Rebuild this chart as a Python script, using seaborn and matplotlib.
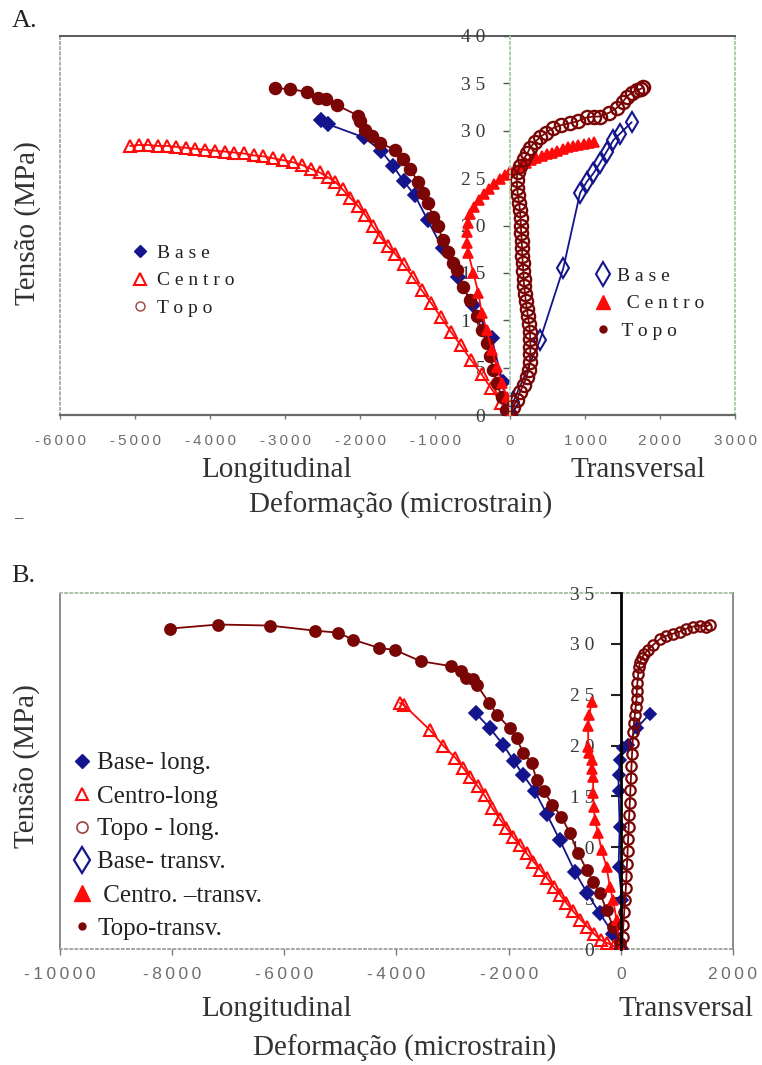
import matplotlib
matplotlib.use("Agg")
import matplotlib.pyplot as plt
from matplotlib.lines import Line2D
import seaborn as sns

sns.set_style("white")
SERIF = ['Liberation Serif', 'DejaVu Serif']
SANS = ['Liberation Sans', 'DejaVu Sans']
plt.rcParams['font.family'] = SERIF

# ---------------- data: panel A ----------------
a_base_long_x = [-2520, -2430, -1950, -1720, -1560, -1420, -1270, -1100, -900, -700, -500, -244, -100, 0]
a_base_long_y = [31.1, 30.7, 29.3, 27.9, 26.3, 24.7, 23.2, 20.6, 17.6, 14.6, 11.6, 8.1, 3.5, 0]

a_centro_long_x = [-5067, -4950, -4830, -4700, -4580, -4450, -4320, -4200, -4070, -3940,
                   -3800, -3680, -3550, -3420, -3290, -3160, -3030, -2900, -2780, -2660,
                   -2540, -2430, -2330, -2230, -2130, -2030, -1930, -1830, -1730, -1630,
                   -1530, -1420, -1300, -1180, -1050, -920, -790, -660, -520, -380,
                   -250, -120, 0]
a_centro_long_y = [28.4, 28.5, 28.5, 28.4, 28.4, 28.3, 28.2, 28.1, 28.0, 27.9,
                   27.8, 27.7, 27.6, 27.4, 27.3, 27.1, 26.9, 26.7, 26.4, 26.0,
                   25.6, 25.1, 24.6, 23.8, 22.9, 22.1, 21.1, 19.9, 18.8, 17.8,
                   17.0, 15.9, 14.6, 13.2, 11.8, 10.3, 8.8, 7.4, 5.8, 4.3,
                   2.8, 1.3, 0]

a_topo_long_x = [-3133, -2933, -2711, -2560, -2453, -2307, -2027, -2000, -1933, -1844,
                 -1733, -1533, -1422, -1333, -1227, -1160, -1093, -1027, -960, -900,
                 -830, -760, -711, -622, -533, -444, -378, -311, -267, -222,
                 -178, -111, -50, 0]
a_topo_long_y = [34.5, 34.4, 34.1, 33.5, 33.3, 32.7, 31.6, 31.0, 30.1, 29.4,
                 28.7, 28.0, 27.0, 26.0, 24.6, 23.4, 22.4, 20.9, 20.0, 18.5,
                 17.2, 16.0, 15.3, 13.5, 12.1, 10.4, 9.0, 7.6, 6.2, 4.7,
                 3.4, 1.9, 0.5, 0]

a_base_trans_x = [0, 44, 400, 711, 933, 1022, 1111, 1200, 1289, 1378, 1467, 1622]
a_base_trans_y = [0, 1.4, 7.9, 15.5, 23.4, 24.6, 25.5, 26.6, 27.8, 29.0, 29.7, 30.9]

a_centro_trans_x = [0, -44, -111, -178, -244, -311, -378, -422, -489, -556,
                    -578, -575, -560, -530, -480, -420, -350, -280, -210, -140,
                    -70, 0, 70, 140, 210, 280, 350, 420, 490, 560,
                    630, 700, 770, 840, 910, 980, 1050, 1120]
a_centro_trans_y = [0, 1.9, 3.4, 5.1, 6.9, 9.0, 10.8, 12.9, 15.0, 17.1,
                    18.2, 19.3, 20.3, 21.2, 22.0, 22.7, 23.3, 23.9, 24.4, 24.9,
                    25.3, 25.7, 26.0, 26.3, 26.6, 26.9, 27.1, 27.3, 27.5, 27.7,
                    27.9, 28.1, 28.3, 28.4, 28.5, 28.6, 28.7, 28.8]

a_topo_trans_x = [0, 40, 90, 133, 180, 220, 250, 265, 270, 272,
                  270, 265, 255, 240, 225, 210, 200, 190, 180, 178,
                  170, 165, 160, 156, 150, 145, 140, 133, 120, 105,
                  95, 89, 100, 133, 180, 230, 267, 330, 400, 480,
                  578, 680, 800, 900, 1022, 1120, 1200, 1320, 1422, 1500,
                  1556, 1620, 1689, 1740, 1778]
a_topo_trans_y = [0, 0.8, 1.6, 2.4, 3.2, 4.0, 4.8, 5.6, 6.4, 7.2,
                  8.0, 8.8, 9.6, 10.4, 11.2, 12.0, 12.8, 13.6, 14.4, 15.2,
                  16.0, 16.8, 17.6, 18.4, 19.2, 20.0, 20.8, 21.6, 22.4, 23.2,
                  24.0, 24.8, 25.6, 26.3, 27.0, 27.6, 28.2, 28.8, 29.3, 29.8,
                  30.3, 30.6, 30.8, 31.0, 31.4, 31.5, 31.5, 31.9, 32.4, 33.0,
                  33.6, 34.0, 34.3, 34.4, 34.6]

a_xticks = [-6000, -5000, -4000, -3000, -2000, -1000, 0, 1000, 2000, 3000]
a_xtick_labels = ['-6000', '-5000', '-4000', '-3000', '-2000', '-1000', '0', '1000', '2000', '3000']
a_yticks = [0, 5, 10, 15, 20, 25, 30, 35, 40]
a_ytick_labels = ['0', '5', '1 0', '1 5', '2 0', '2 5', '3 0', '3 5', '4 0']
a_legend_left = ['B a s e', 'C e n t r o', 'T o p o']
a_legend_right = ['B a s e', '  C e n t r o', ' T o p o']

# ---------------- data: panel B ----------------
b_topo_long_x = [-8040, -7180, -6260, -5460, -5040, -4770, -4310, -4030, -3570, -3020,
                 -2850, -2760, -2630, -2570, -2350, -2200, -1980, -1860, -1740, -1590,
                 -1500, -1370, -1220, -1060, -910, -760, -610, -490, -370, -255,
                 -137, -20, 0]
b_topo_long_y = [31.5, 31.9, 31.8, 31.3, 31.1, 30.4, 29.6, 29.4, 28.3, 27.8,
                 27.3, 26.6, 26.5, 26.0, 24.2, 23.0, 21.7, 20.7, 19.3, 18.3,
                 16.6, 15.5, 14.2, 13.0, 11.4, 9.4, 7.8, 6.6, 5.5, 3.8,
                 2.2, 0.6, 0]

b_base_long_x = [-2590, -2335, -2100, -1910, -1740, -1533, -1324, -1087, -820, -600, -374, -137, 0]
b_base_long_y = [23.2, 21.7, 20.1, 18.5, 17.1, 15.5, 13.3, 10.7, 7.6, 5.5, 3.5, 1.5, 0]

b_centro_long_x = [-3940, -3870, -3400, -3170, -2950, -2810, -2690, -2550, -2430, -2300,
                   -2160, -2040, -1920, -1800, -1680, -1560, -1440, -1320, -1200, -1080,
                   -970, -850, -720, -600, -480, -360, -250, -130, 0]
b_centro_long_y = [24.2, 24.0, 21.5, 20.0, 18.8, 17.8, 16.9, 16.0, 15.1, 13.9,
                   12.8, 11.9, 11.0, 10.2, 9.4, 8.6, 7.8, 7.0, 6.1, 5.3,
                   4.5, 3.7, 2.9, 2.2, 1.5, 0.9, 0.6, 0.3, 0]

b_centro_trans_x = [0, -18, -77, -137, -196, -255, -344, -405, -463, -480,
                    -494, -494, -510, -522, -560, -582, -582, -560, -522]
b_centro_trans_y = [0, 0.2, 2.9, 4.8, 6.1, 8.1, 9.7, 11.4, 12.7, 14.0,
                    15.3, 16.9, 17.7, 18.6, 19.3, 19.9, 21.9, 23.0, 24.3]

b_base_trans_x = [0, 20, -40, -20, -40, -40, -15, 40, 130, 280, 515]
b_base_trans_y = [0, 4.8, 8.1, 12.0, 15.5, 17.1, 18.6, 19.8, 20.1, 21.7, 23.1]

b_topo_trans_x = [0, 30, 45, 60, 75, 90, 100, 110, 120, 130,
                  140, 150, 160, 170, 180, 190, 200, 210, 220, 235,
                  250, 265, 280, 285, 295, 310, 325, 340, 370, 420,
                  480, 576, 700, 814, 930, 1052, 1170, 1289, 1410, 1527,
                  1586]
b_topo_trans_y = [0, 1.2, 2.4, 3.6, 4.8, 6.0, 7.2, 8.4, 9.6, 10.8,
                  12.0, 13.2, 14.4, 15.6, 16.8, 18.0, 19.2, 20.3, 21.3, 22.2,
                  23.0, 23.8, 24.6, 25.4, 26.2, 27.0, 27.7, 28.2, 28.6, 29.0,
                  29.4, 29.9, 30.5, 30.8, 31.0, 31.2, 31.5, 31.7, 31.8, 31.7,
                  31.9]

b_xticks = [-10000, -8000, -6000, -4000, -2000, 0, 2000]
b_xtick_labels = ['-10000', '-8000', '-6000', '-4000', '-2000', '0', '2000']
b_yticks = [0, 5, 10, 15, 20, 25, 30, 35]
b_ytick_labels = ['0', '5', '1 0', '1 5', '2 0', '2 5', '3 0', '3 5']
b_legend = ['Base- long.', 'Centro-long', 'Topo - long.', 'Base- transv.', ' Centro. \u2013transv.', 'Topo-transv.']

# ---------------- figure ----------------
W, H = 762, 1065
fig = plt.figure(figsize=(W / 100, H / 100), dpi=100)


def fx(px):
    return px / W


def fy(py):
    return 1 - py / H


def rect(l, t, r, b):
    return [fx(l), fy(b), (r - l) / W, (b - t) / H]


NAVY = '#14148c'
RED = '#ff0a0a'
MAROON = '#7a0505'
SP = '\u2009'


def spaced(s):
    return SP.join(list(s))


def draw(ax, x, y, color, marker, ms, filled=True, mew=1.2, lw=1.3):
    sns.lineplot(x=x, y=y, ax=ax, sort=False, estimator=None, color=color, lw=lw,
                 marker=marker, markersize=ms,
                 markerfacecolor=color if filled else 'none',
                 markeredgecolor=color, markeredgewidth=mew)


def frame_axes(r, styles):
    fr = fig.add_axes(r, zorder=0)
    fr.set_xticks([])
    fr.set_yticks([])
    fr.patch.set_alpha(0)
    for side, (col, ls, lw) in styles.items():
        fr.spines[side].set_color(col)
        fr.spines[side].set_linestyle(ls)
        fr.spines[side].set_linewidth(lw)
        fr.spines[side].set_visible(True)
    return fr


# ================= Panel A =================
rA = rect(60, 36, 735, 415)
frame_axes(rA, {'top': ('#5a5a5a', '-', 1.4), 'left': ('#a8b0a8', ':', 1.4),
                'right': ('#a9cfa9', ':', 1.4), 'bottom': ('#6a6a6a', '-', 1.6)})
axA = fig.add_axes(rA, zorder=1)
axA.patch.set_alpha(0)

draw(axA, a_base_long_x, a_base_long_y, NAVY, 'D', 7.5)
draw(axA, a_centro_long_x, a_centro_long_y, RED, '^', 8.5, filled=False, mew=1.5)
draw(axA, a_topo_long_x, a_topo_long_y, MAROON, 'o', 8.5)
draw(axA, a_base_trans_x, a_base_trans_y, NAVY, 'd', 10, filled=False, mew=1.5)
draw(axA, a_centro_trans_x, a_centro_trans_y, RED, '^', 7.5)
draw(axA, a_topo_trans_x, a_topo_trans_y, MAROON, 'o', 9.5, filled=False, mew=1.7)

axA.set_xlim(-6000, 3000)
axA.set_ylim(0, 40)
axA.set_xlabel('')
axA.set_ylabel('')
for s in ['top', 'right', 'bottom']:
    axA.spines[s].set_visible(False)
axA.spines['left'].set_position(('data', 0))
axA.spines['left'].set_color('#a9cfa9')
axA.spines['left'].set_linestyle(':')
axA.spines['left'].set_linewidth(1.4)
axA.set_xticks(a_xticks)
axA.set_xticklabels([spaced(t) for t in a_xtick_labels], fontfamily=SANS, fontsize=11, color='#6e6e6e')
axA.set_yticks(a_yticks)
axA.set_yticklabels(a_ytick_labels, fontfamily=SERIF, fontsize=14, color='#3a3a3a')
axA.tick_params(axis='x', direction='out', length=3, width=1, color='#777777', pad=11, bottom=True)
axA.tick_params(axis='y', direction='out', length=5, width=1, color='#555555', pad=13, left=True)

# legends panel A
hA_left = [Line2D([], [], ls='none', marker='D', ms=6, mfc=NAVY, mec=NAVY),
           Line2D([], [], ls='none', marker='^', ms=8, mfc='none', mec=RED, mew=1.5),
           Line2D([], [], ls='none', marker='o', ms=6.5, mfc='none', mec='#a04040', mew=1.0)]
fig.legend(hA_left, a_legend_left, loc='upper left', bbox_to_anchor=(fx(132), fy(244)),
           frameon=False, borderpad=0, borderaxespad=0, handlelength=0.8, handletextpad=0.5,
           labelspacing=0.52, prop={'family': SERIF, 'size': 14}, labelcolor='#222222')
hA_right = [Line2D([], [], ls='none', marker='d', ms=12, mfc='none', mec=NAVY, mew=1.5),
            Line2D([], [], ls='none', marker='^', ms=10, mfc=RED, mec=RED),
            Line2D([], [], ls='none', marker='o', ms=5, mfc=MAROON, mec=MAROON)]
fig.legend(hA_right, a_legend_right, loc='upper left', bbox_to_anchor=(fx(595), fy(267)),
           frameon=False, borderpad=0, borderaxespad=0, handlelength=0.8, handletextpad=0.33,
           labelspacing=0.52, prop={'family': SERIF, 'size': 14}, labelcolor='#222222')

fig.text(fx(25), fy(21), 'A.', fontsize=19, ha='center', va='center', color='#222222')
fig.text(fx(28), fy(223), 'Tensão (MPa)', rotation=90, fontsize=21, ha='center', va='center', color='#333333')
fig.text(fx(277), fy(470), 'Longitudinal', fontsize=21, ha='center', va='center', color='#333333')
fig.text(fx(638), fy(470), 'Transversal', fontsize=21, ha='center', va='center', color='#333333')
fig.text(fx(401), fy(505), 'Deformação (microstrain)', fontsize=21, ha='center', va='center', color='#333333')
fig.text(fx(18), fy(518), '\u2013', fontsize=12, ha='center', va='center', color='#333333')

# ================= Panel B =================
rB = rect(60, 593, 733, 949)
frame_axes(rB, {'top': ('#a9c4a9', ':', 1.4), 'left': ('#8a8a8a', '-', 1.4),
                'right': ('#8a8a8a', '-', 1.4), 'bottom': ('#a0a8a0', ':', 1.4)})
axB = fig.add_axes(rB, zorder=1)
axB.patch.set_alpha(0)

draw(axB, b_base_long_x, b_base_long_y, NAVY, 'D', 7.5)
draw(axB, b_centro_long_x, b_centro_long_y, RED, '^', 8.5, filled=False, mew=1.5)
draw(axB, b_topo_long_x, b_topo_long_y, MAROON, 'o', 8)
draw(axB, b_base_trans_x, b_base_trans_y, NAVY, 'D', 6.5)
draw(axB, b_centro_trans_x, b_centro_trans_y, RED, '^', 7.5)
draw(axB, b_topo_trans_x, b_topo_trans_y, MAROON, 'o', 7.5, filled=False, mew=1.6)

axB.set_xlim(-10000, 2000)
axB.set_ylim(0, 35)
axB.set_xlabel('')
axB.set_ylabel('')
for s in ['top', 'right', 'bottom']:
    axB.spines[s].set_visible(False)
axB.spines['left'].set_position(('data', 0))
axB.spines['left'].set_color('#000000')
axB.spines['left'].set_linewidth(2.0)
axB.set_xticks(b_xticks)
axB.set_xticklabels([spaced(t) for t in b_xtick_labels], fontfamily=SANS, fontsize=12.5, color='#6e6e6e')
axB.set_yticks(b_yticks)
axB.set_yticklabels(b_ytick_labels, fontfamily=SERIF, fontsize=14, color='#3a3a3a')
axB.tick_params(axis='x', direction='out', length=4, width=1, color='#777777', pad=9, bottom=True)
axB.tick_params(axis='y', direction='out', length=7, width=1.5, color='#222222', pad=12, left=True)

hB = [Line2D([], [], ls='none', marker='D', ms=7, mfc=NAVY, mec=NAVY),
      Line2D([], [], ls='none', marker='^', ms=9, mfc='none', mec=RED, mew=1.5),
      Line2D([], [], ls='none', marker='o', ms=8, mfc='none', mec='#a04040', mew=1.2),
      Line2D([], [], ls='none', marker='d', ms=13, mfc='none', mec=NAVY, mew=1.6),
      Line2D([], [], ls='none', marker='^', ms=11, mfc=RED, mec=RED),
      Line2D([], [], ls='none', marker='o', ms=5, mfc=MAROON, mec=MAROON)]
fig.legend(hB, b_legend, loc='upper left', bbox_to_anchor=(fx(73), fy(752)),
           frameon=False, borderpad=0, borderaxespad=0, handlelength=0.7, handletextpad=0.26,
           labelspacing=0.42, prop={'family': SERIF, 'size': 18}, labelcolor='#222222')

fig.text(fx(23), fy(576), 'B.', fontsize=19, ha='center', va='center', color='#222222')
fig.text(fx(27), fy(766), 'Tensão (MPa)', rotation=90, fontsize=21, ha='center', va='center', color='#333333')
fig.text(fx(277), fy(1009), 'Longitudinal', fontsize=21, ha='center', va='center', color='#333333')
fig.text(fx(686), fy(1009), 'Transversal', fontsize=21, ha='center', va='center', color='#333333')
fig.text(fx(405), fy(1048), 'Deformação (microstrain)', fontsize=21, ha='center', va='center', color='#333333')

fig.savefig('out.png', dpi=100, facecolor='white')
